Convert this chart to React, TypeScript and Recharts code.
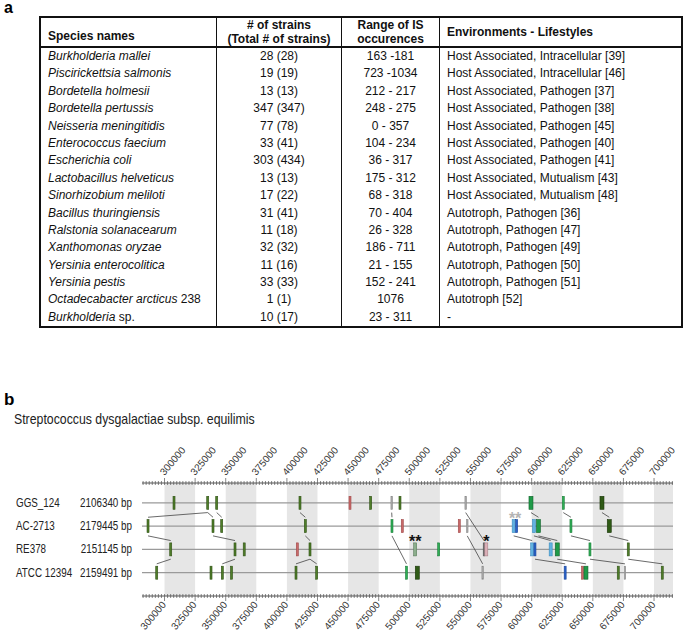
import React from "react";
import {
  ScatterChart,
  Scatter,
  XAxis,
  YAxis,
  ReferenceArea,
  ReferenceLine,
} from "recharts";

// ---- table (panel a) ----
const speciesNames = [
  "Burkholderia mallei",
  "Piscirickettsia salmonis",
  "Bordetella holmesii",
  "Bordetella pertussis",
  "Neisseria meningitidis",
  "Enterococcus faecium",
  "Escherichia coli",
  "Lactobacillus helveticus",
  "Sinorhizobium meliloti",
  "Bacillus thuringiensis",
  "Ralstonia solanacearum",
  "Xanthomonas oryzae",
  "Yersinia enterocolitica",
  "Yersinia pestis",
  "Octadecabacter arcticus",
  "Burkholderia",
];
const speciesSuffix = ["", "", "", "", "", "", "", "", "", "", "", "", "", "", " 238", " sp."];
const strainCounts = [
  "28 (28)", "19 (19)", "13 (13)", "347 (347)", "77 (78)", "33 (41)", "303 (434)", "13 (13)",
  "17 (22)", "31 (41)", "11 (18)", "32 (32)", "11 (16)", "33 (33)", "1 (1)", "10 (17)",
];
const isRanges = [
  "163 -181", "723 -1034", "212 - 217", "248 - 275", "0 - 357", "104 - 234", "36 - 317", "175 - 312",
  "68 - 318", "70 - 404", "26 - 328", "186 - 711", "21 - 155", "152 - 241", "1076", "23 - 311",
];
const lifestyles = [
  "Host Associated, Intracellular [39]",
  "Host Associated, Intracellular [46]",
  "Host Associated, Pathogen [37]",
  "Host Associated, Pathogen [38]",
  "Host Associated, Pathogen [45]",
  "Host Associated, Pathogen [40]",
  "Host Associated, Pathogen [41]",
  "Host Associated, Mutualism [43]",
  "Host Associated, Mutualism [48]",
  "Autotroph, Pathogen [36]",
  "Autotroph, Pathogen [47]",
  "Autotroph, Pathogen [49]",
  "Autotroph, Pathogen [50]",
  "Autotroph, Pathogen [51]",
  "Autotroph [52]",
  "-",
];

// ---- genome map (panel b) ----
const strains = ["GGS_124", "AC-2713", "RE378", "ATCC 12394"];
const genomeSizes = ["2106340 bp", "2179445 bp", "2151145 bp", "2159491 bp"];
const shadedStarts = [300000, 350000, 400000, 450000, 500000, 550000, 600000, 650000, 700000];
const X_MIN = 281600;
const X_MAX = 715500;

// IS hits per strain: [position bp, kind]
const ggs124Hits: [number, string][] = [
  [307760, "dg"], [335300, "dg"], [342650, "dg"], [410700, "dg"], [451560, "r"], [468470, "dg"],
  [485630, "gr"], [492410, "dg"], [546090, "gr"], [599450, "gW"], [625840, "g"], [657460, "dgW"],
];
const ac2713Hits: [number, string][] = [
  [286520, "dg"], [339620, "dg"], [346730, "dg"], [415040, "dg"], [485870, "g"], [494290, "r"],
  [540860, "r"], [547390, "gr"], [585300, "lb"], [587750, "b"], [601890, "lb"], [605560, "gW"],
  [632110, "g"], [663420, "dgW"],
];
const re378Hits: [number, string][] = [
  [305070, "dg"], [357600, "dg"], [365120, "dg"], [408500, "r"], [418880, "dg"], [504830, "gg"],
  [524030, "g"], [561040, "dgr"], [562920, "pk"], [600420, "lb"], [602710, "b"], [615540, "lb"],
  [620930, "gW"], [647650, "g"], [678940, "dg"],
];
const atcc12394Hits: [number, string][] = [
  [293630, "dg"], [337990, "dg"], [347220, "dg"], [354740, "dg"], [407440, "dg"], [424350, "dg"],
  [497730, "g"], [506550, "dgW"], [559970, "gr"], [627370, "b"], [641520, "r"], [644380, "gW"],
  [670770, "dg"], [676230, "gr"], [706720, "dg"],
];

// links between hits: [from row, from bp, to row, to bp]
const links: [number, number, number, number][] = [
  [0, 335300, 1, 286520], [0, 335300, 1, 339620], [0, 342650, 1, 346730], [0, 410700, 1, 415040],
  [0, 485630, 1, 485870], [0, 546090, 2, 561040], [0, 599450, 1, 605560], [0, 625840, 1, 632110],
  [0, 657460, 1, 663420],
  [1, 286520, 2, 305070], [1, 339620, 2, 357600], [1, 415040, 2, 418880], [1, 485870, 3, 497730],
  [1, 547390, 3, 559970], [1, 585300, 2, 600420], [1, 601890, 2, 615540], [1, 605560, 2, 620930],
  [1, 632110, 2, 647650], [1, 663420, 2, 678940],
  [2, 305070, 3, 293630], [2, 357600, 3, 347220], [2, 418880, 3, 407440], [2, 418880, 3, 424350],
  [2, 602710, 3, 627370], [2, 620930, 3, 644380], [2, 647650, 3, 676230], [2, 678940, 3, 706720],
];

// asterisk notes: [row, bp, text, tone]
const notes: [number, number, string, string][] = [
  [1, 586500, "**", "light"],
  [2, 504830, "**", "dark"],
  [2, 562920, "*", "dark"],
];

const KIND_STYLE: Record<string, { fill: string; stroke: string; w: number }> = {
  dg: { fill: "#4f7d2a", stroke: "#2f5114", w: 2 },
  dgW: { fill: "#2f5a16", stroke: "#1b360a", w: 4 },
  g: { fill: "#2fae55", stroke: "#1b7d39", w: 2 },
  gW: { fill: "#1f9a48", stroke: "#14622c", w: 4 },
  r: { fill: "#c86a6a", stroke: "#a04848", w: 2 },
  gr: { fill: "#aaaaaa", stroke: "#8a8a8a", w: 1.5 },
  dgr: { fill: "#6a6a6a", stroke: "#555555", w: 1.5 },
  lb: { fill: "#62b2e0", stroke: "#3c8cc0", w: 3 },
  b: { fill: "#2a62c8", stroke: "#1a4498", w: 2 },
  pk: { fill: "#dcb0b8", stroke: "#a88088", w: 3 },
  gg: { fill: "#8cae8c", stroke: "#5c7c5c", w: 3 },
};

const allHits = [ggs124Hits, ac2713Hits, re378Hits, atcc12394Hits];
const hitData = allHits.flatMap((hits, row) =>
  hits.map(([bp, kind]) => ({ x: bp, y: row, kind }))
);
const noteData = notes.map(([row, bp, text, tone]) => ({ x: bp, y: row, text, tone }));

const minorTicks: number[] = [];
for (let v = 282500; v <= X_MAX; v += 2500) minorTicks.push(v);

const FONT = '"Liberation Sans", Arial, sans-serif';
const SQUEEZE = 0.82; // the original uses a narrow face

function HitMark(props: any) {
  const { cx, cy, payload } = props;
  const s = KIND_STYLE[payload.kind];
  return (
    <rect
      x={cx - s.w / 2}
      y={cy - 6.5}
      width={s.w}
      height={13}
      fill={s.fill}
      stroke={s.stroke}
      strokeWidth={0.6}
    />
  );
}

function NoteMark(props: any) {
  const { cx, cy, payload } = props;
  return (
    <text
      x={cx}
      y={cy - 2}
      textAnchor="middle"
      fontSize={16}
      fontWeight="bold"
      fontFamily={FONT}
      fill={payload.tone === "light" ? "#b4b4b4" : "#111"}
    >
      {payload.text}
    </text>
  );
}

function RulerTick(props: any) {
  const { x, y, payload, side } = props;
  const v = payload.value;
  const major = v % 25000 === 0;
  const up = side === "top";
  const y1 = major ? (up ? y - 5 : y - 2) : y - 2;
  const y2 = major ? (up ? y + 2 : y + 5) : y + 2;
  return (
    <g>
      <line x1={x} x2={x} y1={y1} y2={y2} stroke="#555" strokeWidth={0.7} />
      {major && up && (
        <text
          x={x}
          y={y - 7}
          fontSize={10}
          fontFamily={FONT}
          fill="#333"
          textAnchor="start"
          transform={`rotate(-50 ${x} ${y - 7})`}
        >
          {v}
        </text>
      )}
      {major && !up && (
        <text
          x={x + 2}
          y={y + 9}
          fontSize={10}
          fontFamily={FONT}
          fill="#333"
          textAnchor="end"
          transform={`rotate(-50 ${x + 2} ${y + 9})`}
        >
          {v}
        </text>
      )}
    </g>
  );
}

function StrainTick(props: any) {
  const { x, y, payload } = props;
  const i = payload.value;
  return (
    <g fontFamily={FONT} fontSize={12} fill="#222">
      <text transform={`translate(${x - 126} ${y + 4}) scale(${SQUEEZE} 1)`}>
        {strains[i]}
      </text>
      <text textAnchor="end" transform={`translate(${x - 10} ${y + 4}) scale(${SQUEEZE} 1)`}>
        {genomeSizes[i]}
      </text>
    </g>
  );
}

function GenomeMap() {
  return (
    <ScatterChart
      width={685}
      height={203}
      margin={{ top: 23, right: 12, bottom: 7, left: 0 }}
    >
      <XAxis
        xAxisId="top"
        orientation="top"
        type="number"
        dataKey="x"
        domain={[X_MIN, X_MAX]}
        allowDataOverflow
        ticks={minorTicks}
        interval={0}
        tickSize={0}
        tickMargin={0}
        height={30}
        axisLine={{ stroke: "#555" }}
        tick={<RulerTick side="top" />}
      />
      <XAxis
        xAxisId="bottom"
        orientation="bottom"
        type="number"
        dataKey="x"
        domain={[X_MIN, X_MAX]}
        allowDataOverflow
        ticks={minorTicks}
        interval={0}
        tickSize={0}
        tickMargin={0}
        height={30}
        axisLine={{ stroke: "#555" }}
        tick={<RulerTick side="bottom" />}
      />
      <YAxis
        yAxisId="rows"
        type="number"
        dataKey="y"
        domain={[-0.85, 4]}
        reversed
        allowDataOverflow
        ticks={[0, 1, 2, 3]}
        interval={0}
        width={142}
        tickSize={0}
        tickMargin={0}
        axisLine={false}
        tickLine={false}
        tick={<StrainTick />}
      />
      {shadedStarts.map((s) => (
        <ReferenceArea
          key={s}
          xAxisId="bottom"
          yAxisId="rows"
          x1={s}
          x2={Math.min(s + 25000, X_MAX)}
          fill="#e6e6e6"
          fillOpacity={1}
          stroke="none"
        />
      ))}
      {strains.map((_, i) => (
        <ReferenceLine
          key={i}
          xAxisId="bottom"
          yAxisId="rows"
          y={i}
          stroke="#9a9a9a"
          strokeWidth={1.2}
        />
      ))}
      {links.map(([r1, a, r2, b], i) => (
        <ReferenceLine
          key={"l" + i}
          xAxisId="bottom"
          yAxisId="rows"
          segment={[
            { x: a, y: r1 + 0.42 },
            { x: b, y: r2 - 0.38 },
          ]}
          stroke="#444"
          strokeWidth={0.8}
        />
      ))}
      <Scatter
        xAxisId="bottom"
        yAxisId="rows"
        data={hitData}
        shape={<HitMark />}
        isAnimationActive={false}
      />
      <Scatter
        xAxisId="bottom"
        yAxisId="rows"
        data={noteData}
        shape={<NoteMark />}
        isAnimationActive={false}
      />
    </ScatterChart>
  );
}

const cellBase: React.CSSProperties = { boxSizing: "border-box", whiteSpace: "nowrap" };
const COLS = [175, 125, 98, 242];
const ROW_H = 17.4;

function SpeciesTable() {
  const colStyle = (i: number): React.CSSProperties => ({
    ...cellBase,
    width: COLS[i],
    borderLeft: i > 0 ? "1px solid #111" : "none",
    paddingLeft: i === 0 || i === 3 ? 7 : 0,
    textAlign: i === 1 || i === 2 ? "center" : "left",
  });
  return (
    <div
      style={{
        position: "absolute",
        left: 39,
        top: 16,
        width: 640,
        border: "2px solid #111",
        fontSize: 12,
        color: "#111",
      }}
    >
      <div style={{ display: "flex", height: 28, borderBottom: "2px solid #111", fontWeight: "bold" }}>
        <div style={{ ...colStyle(0), display: "flex", alignItems: "flex-end", paddingBottom: 3 }}>
          Species names
        </div>
        <div style={{ ...colStyle(1), display: "flex", flexDirection: "column", justifyContent: "center", lineHeight: "14px" }}>
          <span># of strains</span>
          <span>(Total # of strains)</span>
        </div>
        <div style={{ ...colStyle(2), display: "flex", flexDirection: "column", justifyContent: "center", lineHeight: "14px" }}>
          <span>Range of IS</span>
          <span>occurences</span>
        </div>
        <div style={{ ...colStyle(3), display: "flex", alignItems: "center" }}>
          Environments - Lifestyles
        </div>
      </div>
      {speciesNames.map((name, r) => (
        <div key={r} style={{ display: "flex", height: ROW_H, lineHeight: ROW_H + "px" }}>
          <div style={colStyle(0)}>
            <i>{name}</i>
            {speciesSuffix[r]}
          </div>
          <div style={colStyle(1)}>{strainCounts[r]}</div>
          <div style={colStyle(2)}>{isRanges[r]}</div>
          <div style={colStyle(3)}>{lifestyles[r]}</div>
        </div>
      ))}
    </div>
  );
}

export default function App() {
  return (
    <div
      style={{
        position: "absolute",
        left: 0,
        top: 0,
        width: 685,
        height: 633,
        background: "#fff",
        fontFamily: FONT,
        overflow: "hidden",
      }}
    >
      <div style={{ position: "absolute", left: 4, top: 0, fontSize: 16, fontWeight: "bold", lineHeight: "16px" }}>a</div>
      <SpeciesTable />
      <div style={{ position: "absolute", left: 4, top: 391, fontSize: 17, fontWeight: "bold", lineHeight: "17px" }}>b</div>
      <div
        style={{
          position: "absolute",
          left: 14,
          top: 410,
          fontSize: 15,
          color: "#222",
          lineHeight: "18px",
          whiteSpace: "nowrap",
          transform: `scaleX(${SQUEEZE})`,
          transformOrigin: "left center",
        }}
      >
        Streptococcus dysgalactiae subsp. equilimis
      </div>
      <div style={{ position: "absolute", left: 0, top: 430 }}>
        <GenomeMap />
      </div>
    </div>
  );
}
